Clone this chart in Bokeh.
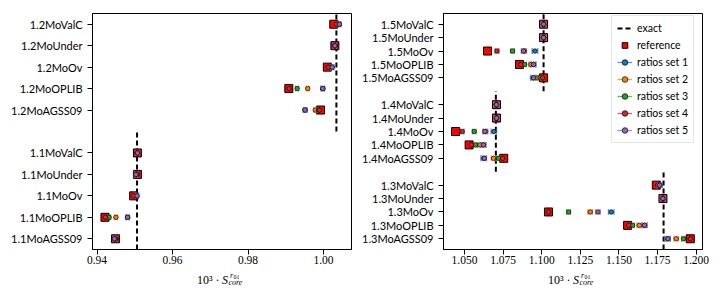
import math
from bokeh.plotting import figure
from bokeh.layouts import row, column
from bokeh.models import (Range1d, FixedTicker, PrintfTickFormatter, Legend,
                          LegendItem)
from bokeh.core.properties import value
from bokeh.embed import file_html
from bokeh.resources import INLINE

# ---------------- data ----------------
models = ["MoAGSS09", "MoOPLIB", "MoOv", "MoUnder", "MoValC"]
masses_left = ["1.1", "1.2"]
masses_right = ["1.3", "1.4", "1.5"]

set_names = ["ratios set 1", "ratios set 2", "ratios set 3", "ratios set 4", "ratios set 5"]
set_colors = ["#1f77b4", "#ff7f0e", "#2ca02c", "#d62728", "#9467bd"]

# left panel (1.1 group then 1.2 group; AGSS09, OPLIB, Ov, Under, ValC)
exact_left = [0.9506, 1.0034]
ref_left = [0.9449, 0.9421, 0.9497, 0.9507, 0.9507,
            0.9992, 0.9908, 1.0010, 1.0030, 1.0027]
set1_left = [0.9447, 0.9481, 0.9505, 0.9504, 0.9507,
             0.9951, 0.9998, 1.0022, 1.0030, 1.0041]
set2_left = [0.9448, 0.9450, 0.9502, 0.9504, 0.9507,
             0.9978, 0.9958, 1.0018, 1.0030, 1.0039]
set3_left = [0.9450, 0.9432, 0.9500, 0.9505, 0.9507,
             0.9987, 0.9930, 1.0016, 1.0030, 1.0037]
set4_left = [0.9449, 0.9422, 0.9497, 0.9506, 0.9507,
             0.9989, 0.9909, 1.0013, 1.0030, 1.0034]
set5_left = [0.9446, 0.9481, 0.9506, 0.9503, 0.9507,
             0.9951, 0.9998, 1.0023, 1.0030, 1.0042]
err_left = [0.0005, 0.0004, 0.0004, 0.0004, 0.0004]

# right panel (1.3, 1.4, 1.5 groups)
exact_right = [1.1789, 1.0703, 1.1012]
ref_right = [1.1962, 1.1556, 1.1044, 1.1785, 1.1742,
             1.0754, 1.0530, 1.0442, 1.0707, 1.0707,
             1.1012, 1.0856, 1.0649, 1.1012, 1.1012]
set1_right = [1.1815, 1.1664, 1.1450, 1.1785, 1.1763,
              1.0624, 1.0621, 1.0690, 1.0707, 1.0707,
              1.0945, 1.0945, 1.0956, 1.1012, 1.1012]
set2_right = [1.1871, 1.1631, 1.1314, 1.1785, 1.1758,
              1.0688, 1.0600, 1.0637, 1.0707, 1.0707,
              1.0975, 1.0930, 1.0887, 1.1012, 1.1012]
set3_right = [1.1918, 1.1588, 1.1174, 1.1785, 1.1755,
              1.0720, 1.0571, 1.0563, 1.0707, 1.0707,
              1.0990, 1.0889, 1.0811, 1.1012, 1.1012]
set4_right = [1.1962, 1.1563, 1.1044, 1.1785, 1.1751,
              1.0747, 1.0545, 1.0485, 1.0707, 1.0707,
              1.1006, 1.0864, 1.0710, 1.1012, 1.1012]
set5_right = [1.1817, 1.1666, 1.1364, 1.1785, 1.1763,
              1.0628, 1.0623, 1.0632, 1.0707, 1.0707,
              1.0947, 1.0947, 1.0882, 1.1012, 1.1012]
err_right = [0.0018, 0.0015, 0.0012, 0.0012, 0.0014]

x_ticks_left = [0.94, 0.96, 0.98, 1.00]
x_ticks_right = [1.050, 1.075, 1.100, 1.125, 1.150, 1.175, 1.200]

FIG_H = 270
BT, BB = 13, 21
LAB_H = 23


def build(masses, exact, ref, sets, errs, xr, yr, xticks, fmt, width,
          bl, br, with_legend):
    p = figure(width=width, height=FIG_H, x_range=Range1d(*xr),
               y_range=Range1d(*yr), output_backend="svg",
               toolbar_location=None, min_border_left=bl,
               min_border_right=br, min_border_top=BT, min_border_bottom=BB)
    p.outline_line_color = "black"
    p.outline_line_width = 1
    p.outline_line_alpha = 1
    p.xgrid.visible = False
    p.ygrid.visible = False

    ys, labels, lo, hi = [], {}, [], []
    for gi, m in enumerate(masses):
        for mi, mod in enumerate(models):
            y = 6 * gi + mi
            ys.append(y)
            labels[y] = m + mod
        lo.append(max(6 * gi - 1, yr[0]))
        hi.append(min(6 * gi + 5, yr[1]))

    ex = p.segment(x0=exact, y0=lo, x1=exact, y1=hi, line_color="black",
                   line_width=2, line_dash="5 3")
    rf = p.scatter(x=ref, y=ys, marker="square", size=8, fill_color="#ff0000",
                   line_color="black", line_width=1)
    items = [LegendItem(label="exact", renderers=[ex]),
             LegendItem(label="reference", renderers=[rf])]
    for vals, e, c, name in zip(sets, errs, set_colors, set_names):
        x0 = [v - e for v in vals]
        x1 = [v + e for v in vals]
        bar = p.segment(x0=x0, y0=ys, x1=x1, y1=ys, line_color=c,
                        line_width=1.3, line_alpha=0.75)
        p.scatter(x=x0 + x1, y=ys + ys, marker="dash", angle=math.pi / 2,
                  size=6, line_color=c, line_width=1.3, line_alpha=0.75)
        pt = p.scatter(x=vals, y=ys, marker="circle", size=4.5, fill_color=c,
                       line_color="black", line_width=0.7)
        items.append(LegendItem(label=name, renderers=[bar, pt]))

    p.yaxis.ticker = FixedTicker(ticks=ys)
    p.yaxis.major_label_overrides = labels
    p.yaxis.minor_tick_line_color = None
    p.yaxis.major_tick_out = 5
    p.yaxis.major_tick_in = 0
    p.yaxis.major_label_standoff = 5
    p.yaxis.major_label_text_font = "Lato"
    p.yaxis.major_label_text_font_size = "11px"
    p.yaxis.major_label_text_color = "black"

    p.xaxis.ticker = FixedTicker(ticks=xticks)
    p.xaxis.formatter = PrintfTickFormatter(format=fmt)
    p.xaxis.minor_tick_line_color = None
    p.xaxis.major_tick_out = 5
    p.xaxis.major_tick_in = 0
    p.xaxis.major_label_standoff = 1
    p.xaxis.major_label_text_font = "Liberation Serif"
    p.xaxis.major_label_text_font_size = "11.5px"
    p.xaxis.major_label_text_color = "black"
    for ax in (p.xaxis, p.yaxis):
        ax.axis_line_color = "black"
        ax.major_tick_line_color = "black"

    if with_legend:
        lg = Legend(items=items, location=(168, 106), margin=0, padding=5,
                    spacing=3, glyph_width=15, glyph_height=14,
                    label_height=14, label_standoff=5,
                    label_text_font="Lato", label_text_font_size="10.5px",
                    label_text_color="black", border_line_color="#cccccc",
                    border_line_width=1, background_fill_alpha=0.8)
        p.add_layout(lg)
    return p


def xlabel(width, bl, br):
    """Strip below a panel holding the x-axis label 10^3 · S_core^{r01}."""
    q = figure(width=width, height=LAB_H, x_range=Range1d(0, width),
               y_range=Range1d(0, LAB_H), output_backend="svg",
               toolbar_location=None, x_axis_location=None,
               y_axis_location=None, min_border=0)
    q.outline_line_color = None
    q.xgrid.visible = False
    q.ygrid.visible = False
    fw = width - bl - br
    L = bl + fw / 2 - 23
    base = 13.7
    pieces = [("10\u00b3 \u00b7", L + 20.5, base, "12px", "normal", "right"),
              ("S", L + 23, base, "12px", "italic", "left"),
              ("r", L + 31, base + 4.8, "8px", "italic", "left"),
              ("01", L + 34.5, base + 3.3, "6px", "normal", "left"),
              ("core", L + 29.5, base - 3, "8px", "italic", "left")]
    for t, x, y, fs, st, al in pieces:
        q.text(x=[x], y=[y], text=[t], text_font=value("Liberation Serif"),
               text_font_size=value(fs), text_font_style=st, text_align=al,
               text_baseline="alphabetic", text_color="black")
    return q


W1, BL1, BR1 = 356, 92, 5
W2, BL2, BR2 = 359, 87, 13

p1 = build(masses_left, exact_left, ref_left,
           [set1_left, set2_left, set3_left, set4_left, set5_left], err_left,
           (0.9388, 1.0074), (-0.5, 10.5), x_ticks_left, "%.2f",
           W1, BL1, BR1, False)
p2 = build(masses_right, exact_right, ref_right,
           [set1_right, set2_right, set3_right, set4_right, set5_right],
           err_right, (1.0364, 1.2041), (-0.8, 16.8), x_ticks_right, "%.3f",
           W2, BL2, BR2, True)

layout = column(row(p1, p2), row(xlabel(W1, BL1, BR1), xlabel(W2, BL2, BR2)))
open("out.html", "w").write(file_html(layout, INLINE))
